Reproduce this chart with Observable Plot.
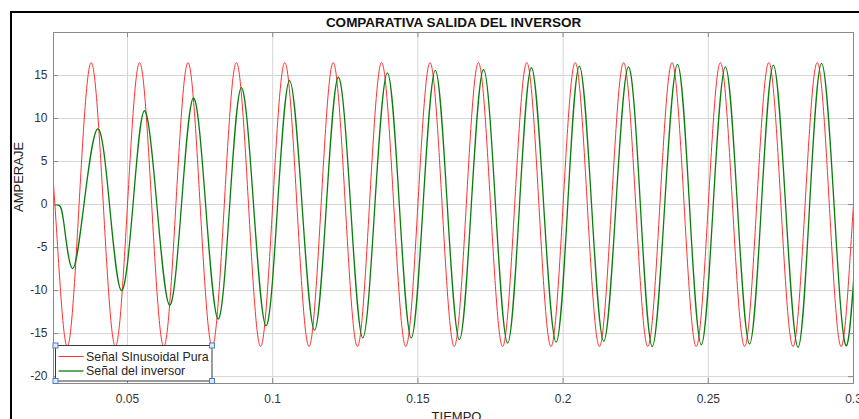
<!DOCTYPE html>
<html>
<head>
<meta charset="utf-8">
<script src="https://cdn.jsdelivr.net/npm/d3@7"></script>
<script src="https://cdn.jsdelivr.net/npm/@observablehq/plot@0.6"></script>
<style>
  html, body { margin: 0; padding: 0; background: #fff; }
  #chart svg { display: block; }
</style>
</head>
<body>
<div id="chart"></div>
<script>
// ---- Data ----
const xTicks = [0.05, 0.1, 0.15, 0.2, 0.25, 0.3];
const yTicks = [-20, -15, -10, -5, 0, 5, 10, 15];
const seriesNames = ["Señal SInusoidal Pura", "Señal del inversor"];

// Pure sinusoid: peaks, zero crossings and troughs (amplitude ≈ 16.5, 60 Hz)
const redT = [0.02083, 0.02500, 0.02917, 0.03333, 0.03750, 0.04167, 0.04583, 0.05000,
  0.05417, 0.05833, 0.06250, 0.06667, 0.07083, 0.07500, 0.07917, 0.08333,
  0.08750, 0.09167, 0.09583, 0.10000, 0.10417, 0.10833, 0.11250, 0.11667,
  0.12083, 0.12500, 0.12917, 0.13333, 0.13750, 0.14167, 0.14583, 0.15000,
  0.15417, 0.15833, 0.16250, 0.16667, 0.17083, 0.17500, 0.17917, 0.18333,
  0.18750, 0.19167, 0.19583, 0.20000, 0.20417, 0.20833, 0.21250, 0.21667,
  0.22083, 0.22500, 0.22917, 0.23333, 0.23750, 0.24167, 0.24583, 0.25000,
  0.25417, 0.25833, 0.26250, 0.26667, 0.27083, 0.27500, 0.27917, 0.28333,
  0.28750, 0.29167, 0.29583, 0.30000, 0.30417];
const redV = [16.5, 0, -16.5, 0, 16.5, 0, -16.5, 0,
  16.5, 0, -16.5, 0, 16.5, 0, -16.5, 0,
  16.5, 0, -16.5, 0, 16.5, 0, -16.5, 0,
  16.5, 0, -16.5, 0, 16.5, 0, -16.5, 0,
  16.5, 0, -16.5, 0, 16.5, 0, -16.5, 0,
  16.5, 0, -16.5, 0, 16.5, 0, -16.5, 0,
  16.5, 0, -16.5, 0, 16.5, 0, -16.5, 0,
  16.5, 0, -16.5, 0, 16.5, 0, -16.5, 0,
  16.5, 0, -16.5, 0, 16.5];

// Inverter signal: start, then zero crossings and extrema
const greenT = [0.02452, 0.0265, 0.0281, 0.0311,
  0.0350, 0.0397, 0.0438, 0.0479, 0.0519, 0.0558, 0.0601, 0.0645,
  0.0686, 0.0727, 0.0769, 0.0812, 0.0852, 0.0892, 0.0934, 0.0977,
  0.1017, 0.1058, 0.1101, 0.1144, 0.1185, 0.1226, 0.1268, 0.1310,
  0.1352, 0.1395, 0.1436, 0.1477, 0.1518, 0.1560, 0.1601, 0.1643,
  0.1684, 0.1726, 0.1767, 0.1809, 0.1850, 0.1891, 0.1933, 0.1976,
  0.2016, 0.2056, 0.2098, 0.2140, 0.2182, 0.2225, 0.2266, 0.2307,
  0.2350, 0.2394, 0.2435, 0.2476, 0.2517, 0.2559, 0.2600, 0.2642,
  0.2683, 0.2724, 0.2766, 0.2809, 0.2849, 0.2890, 0.2933, 0.2976,
  0.3017, 0.3058];
const greenV = [0, -0.1, -2.2, -7.45,
  0, 8.8, 0, -10.0, 0, 10.9, 0, -11.7,
  0, 12.4, 0, -13.3, 0, 13.6, 0, -14.1,
  0, 14.4, 0, -14.6, 0, 14.8, 0, -15.5,
  0, 15.3, 0, -15.5, 0, 15.6, 0, -15.7,
  0, 15.7, 0, -16.1, 0, 15.9, 0, -16.0,
  0, 16.1, 0, -15.9, 0, 16.0, 0, -16.5,
  0, 16.3, 0, -16.3, 0, 16.0, 0, -16.2,
  0, 16.2, 0, -16.6, 0, 16.4, 0, -16.4,
  0, 16.4];

const red = redT.map((t, i) => ({t, v: redV[i]}));
const green = greenT.map((t, i) => ({t, v: greenV[i]}));

const RED = "#ff3030";
const GREEN = "#0b7d0b";
const BOX = "#8a8a8a";
const GRID = "#d6d6d6";
const TXT = "#333333";
const FONT = "'Liberation Sans', Arial, Helvetica, sans-serif";

const W = 859, H = 419;
const mL = 53, mR = 6, mT = 32, mB = 36;
const fw = W - mL - mR, fh = H - mT - mB;

const chart = Plot.plot({
  width: W, height: H,
  marginLeft: mL, marginRight: mR, marginTop: mT, marginBottom: mB,
  x: {domain: [0.02452, 0.3]},
  y: {domain: [-20.8, 20]},
  style: {fontFamily: FONT, fontSize: "12px", color: TXT, background: "#fff", overflow: "hidden"},
  marks: [
    Plot.gridX(xTicks, {stroke: GRID, strokeOpacity: 1}),
    Plot.gridY(yTicks, {stroke: GRID, strokeOpacity: 1}),
    Plot.line(red, {x: "t", y: "v", stroke: RED, strokeWidth: 1, curve: "natural", clip: true}),
    Plot.line(green, {x: "t", y: "v", stroke: GREEN, strokeWidth: 1.3, curve: "natural", clip: true}),
    Plot.frame({stroke: BOX}),
    Plot.tickY(yTicks, {y: d => d, insetRight: fw - 5, stroke: BOX}),
    Plot.tickY(yTicks, {y: d => d, insetLeft: fw - 5, stroke: BOX}),
    Plot.tickX(xTicks, {x: d => d, insetTop: fh - 5, stroke: BOX}),
    Plot.tickX(xTicks, {x: d => d, insetBottom: fh - 5, stroke: BOX}),
    Plot.axisY(yTicks, {tickSize: 0, tickPadding: 6, label: null, tickFormat: d => String(d), fill: TXT}),
    Plot.axisX(xTicks, {tickSize: 0, tickPadding: 11, label: null, tickFormat: d => String(d), fill: TXT}),
    Plot.text(["COMPARATIVA SALIDA DEL INVERSOR"], {text: d => d, frameAnchor: "top", lineAnchor: "middle", dy: -10, fontWeight: "bold", fontSize: 13.5, fill: "#111"}),
    Plot.text(["AMPERAJE"], {text: d => d, frameAnchor: "left", rotate: -90, dx: -35, dy: 4, lineAnchor: "middle", fontSize: 13, fill: "#222"}),
    Plot.text(["TIEMPO"], {text: d => d, frameAnchor: "bottom", lineAnchor: "top", dy: 28, dx: 3, fontSize: 13, fill: "#222"})
  ]
});

document.getElementById("chart").appendChild(chart);

// ---- Decorations: figure border and legend ----
const svg = d3.select(chart);
svg.append("rect")
  .attr("x", 11).attr("y", 12).attr("width", 900).attr("height", 500)
  .attr("fill", "none").attr("stroke", "#000").attr("stroke-width", 2);

const lg = svg.append("g").attr("text-anchor", "start");
const lx = 55.5, ly = 345.5, lw = 156.5, lh = 35.5;
lg.append("rect").attr("x", lx).attr("y", ly).attr("width", lw).attr("height", lh)
  .attr("fill", "#fff").attr("stroke", "#3a3a3a").attr("stroke-width", 1);
const entries = [{name: seriesNames[0], color: RED, w: 1}, {name: seriesNames[1], color: GREEN, w: 1.3}];
entries.forEach((e, i) => {
  const yy = ly + 11 + i * 14.5;
  lg.append("line").attr("x1", lx + 3).attr("x2", lx + 28).attr("y1", yy).attr("y2", yy)
    .attr("stroke", e.color).attr("stroke-width", e.w);
  lg.append("text").attr("x", lx + 30.5).attr("y", yy + 4.3)
    .attr("text-anchor", "start")
    .attr("font-family", FONT).attr("font-size", 12.4).attr("fill", "#262626").text(e.name);
});
[[lx, ly], [lx + lw, ly], [lx, ly + lh], [lx + lw, ly + lh]].forEach(([cx, cy]) => {
  lg.append("rect").attr("x", cx - 2.5).attr("y", cy - 2.5).attr("width", 5).attr("height", 5)
    .attr("fill", "#dfe9f6").attr("stroke", "#4a7fc0").attr("stroke-width", 1);
});
</script>
</body>
</html>
